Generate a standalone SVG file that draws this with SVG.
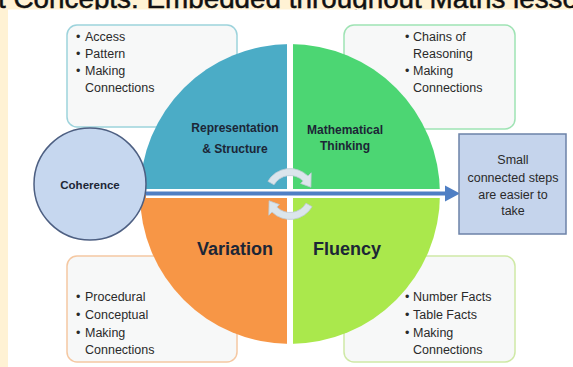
<svg xmlns="http://www.w3.org/2000/svg" width="573" height="367" viewBox="0 0 573 367">
<style>
.lst{font-family:"Liberation Sans",Arial,sans-serif;font-size:12.5px;fill:#2a2a2a}
.ql{font-family:"Liberation Sans",Arial,sans-serif;font-size:12px;font-weight:bold;fill:#1c2636;text-anchor:middle}
.big{font-family:"Liberation Sans",Arial,sans-serif;font-size:18px;font-weight:bold;fill:#1c2636;text-anchor:middle}
.bx{fill:#f7f8f8;stroke-width:1.5}
.cyc{fill:#dbe5ec;stroke:#bccad4;stroke-width:0.8}
</style>
<rect x="0" y="0" width="573" height="367" fill="#fff2d4"/>
<text x="-2" y="7.5" font-family="'Liberation Sans',Arial,sans-serif" font-size="27" fill="#111" stroke="#111" stroke-width="0.5" textLength="580" lengthAdjust="spacingAndGlyphs">t Concepts: Embedded throughout Maths lesso</text>
<rect x="8" y="9.5" width="565" height="357.5" fill="#ffffff"/>

<g id="box-tl"><rect class="bx" x="67" y="25" width="170" height="102" rx="10" stroke="#9dd3dc"/>
<text class="lst" x="76" y="41">•</text><text class="lst" x="85" y="41">Access</text>
<text class="lst" x="76" y="58">•</text><text class="lst" x="85" y="58">Pattern</text>
<text class="lst" x="76" y="75">•</text><text class="lst" x="85" y="75">Making</text>
<text class="lst" x="85" y="92">Connections</text></g>

<g id="box-tr"><rect class="bx" x="344" y="25" width="171" height="104" rx="10" stroke="#9fe3b4"/>
<text class="lst" x="405" y="41">•</text><text class="lst" x="413" y="41">Chains of</text>
<text class="lst" x="413" y="58">Reasoning</text>
<text class="lst" x="405" y="75">•</text><text class="lst" x="413" y="75">Making</text>
<text class="lst" x="413" y="92">Connections</text></g>

<g id="box-bl"><rect class="bx" x="67" y="256" width="170" height="106" rx="10" stroke="#f5c8a2"/>
<text class="lst" x="76" y="301">•</text><text class="lst" x="85" y="301">Procedural</text>
<text class="lst" x="76" y="319">•</text><text class="lst" x="85" y="319">Conceptual</text>
<text class="lst" x="76" y="337">•</text><text class="lst" x="85" y="337">Making</text>
<text class="lst" x="85" y="354">Connections</text></g>

<g id="box-br"><rect class="bx" x="344" y="256" width="171" height="106" rx="10" stroke="#cfe9a6"/>
<text class="lst" x="405" y="301">•</text><text class="lst" x="413" y="301">Number Facts</text>
<text class="lst" x="405" y="319">•</text><text class="lst" x="413" y="319">Table Facts</text>
<text class="lst" x="405" y="337">•</text><text class="lst" x="413" y="337">Making</text>
<text class="lst" x="413" y="354">Connections</text></g>

<g id="pie">
<path d="M290,194 L140,194 A150,150 0 0 1 290,44 Z" fill="#4bacc6"/>
<path d="M290,194 L290,44 A150,150 0 0 1 440,194 Z" fill="#4cd673"/>
<path d="M290,194 L290,344 A150,150 0 0 1 140,194 Z" fill="#f79646"/>
<path d="M290,194 L440,194 A150,150 0 0 1 290,344 Z" fill="#aae84c"/>
<line x1="290" y1="40" x2="290" y2="348" stroke="#ffffff" stroke-width="6"/>
</g>

<g id="connectors">
<line x1="146" y1="193.5" x2="447" y2="193.5" stroke="#ffffff" stroke-width="9"/>
<polygon points="444,183 462,193.5 444,204" fill="#ffffff"/>
<line x1="146" y1="193.5" x2="447" y2="193.5" stroke="#4f7fc4" stroke-width="4"/>
<polygon points="445,185.5 460,193.5 445,201.5" fill="#4f7fc4"/>
<g id="cycle">
<path class="cyc" d="M267.9,181.3 A25.5,25.5 0 0 1 308.0,176.0 L311.2,172.8 L310.9,187.2 L300.6,183.4 L303.1,180.9 A18.5,18.5 0 0 0 274.0,184.8 Z"/>
<path class="cyc" transform="rotate(180 290 194)" d="M267.9,181.3 A25.5,25.5 0 0 1 308.0,176.0 L311.2,172.8 L310.9,187.2 L300.6,183.4 L303.1,180.9 A18.5,18.5 0 0 0 274.0,184.8 Z"/>
</g>
</g>

<g id="q-labels">
<text class="ql" x="235" y="132">Representation</text>
<text class="ql" x="235" y="153">&amp; Structure</text>
<text class="ql" x="345" y="134">Mathematical</text>
<text class="ql" x="345" y="150">Thinking</text>
<text class="big" x="235" y="255">Variation</text>
<text class="big" x="347" y="255">Fluency</text>
</g>

<g id="coherence">
<circle cx="90" cy="184" r="56" fill="#c6d7ef" stroke="#4d5f82" stroke-width="1.5"/>
<text class="ql" x="90" y="189" style="font-size:11.5px">Coherence</text>
</g>

<g id="steps">
<rect x="459" y="134" width="107" height="100" fill="#c5d4ec" stroke="#6c82a8" stroke-width="1.5"/>
<text class="lst" x="513" y="164" text-anchor="middle">Small</text>
<text class="lst" x="513" y="182" text-anchor="middle">connected steps</text>
<text class="lst" x="513" y="199" text-anchor="middle">are easier to</text>
<text class="lst" x="513" y="215" text-anchor="middle">take</text>
</g>
</svg>
